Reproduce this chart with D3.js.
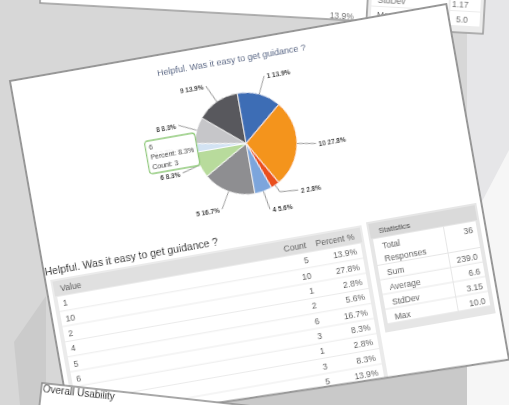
<!DOCTYPE html>
<html><head><meta charset="utf-8">
<script src="https://cdn.jsdelivr.net/npm/d3@7"></script>
<style>body{margin:0;background:#d7d7d7;overflow:hidden}svg{display:block}</style>
</head><body>
<svg id="c" width="509" height="405"></svg>
<script>
// ---------- data ----------
const chartTitle = "Helpful. Was it easy to get guidance ?";
const values = ["1","10","2","4","5","6","7","8","9"];
const counts = [5,10,1,2,6,3,1,3,5];
const sliceColors = ["#3e6db5","#f4941f","#ea4f1c","#7ba5dc","#8e8e91","#b8db9c","#d3e3f3","#c6c6c9","#59595d"];
const tableHeaders = ["Value","Count","Percent %"];
const statLabels = [["Total","Responses"],["Sum"],["Average"],["StdDev"],["Max"]];
const statValues = ["36","239.0","6.6","3.15","10.0"];
const hoveredValue = "6";
const bgStatLabels = ["StdDev","Max"];
const bgStatValues = ["1.17","5.0"];
const bottomTitle = "Overall Usability";

const FONT = "'Liberation Sans', Arial, sans-serif";
const total = d3.sum(counts);
const pct = c => d3.format(".1f")(c/total*100) + "%";
const data = values.map((v,i)=>({value:v,count:counts[i],color:sliceColors[i]}));

const svg = d3.select("#c");
const defs = svg.append("defs");
defs.append("filter").attr("id","soft").attr("x","-5%").attr("y","-5%").attr("width","110%").attr("height","110%")
  .append("feGaussianBlur").attr("stdDeviation",0.35);

// ---------- background ----------
svg.append("rect").attr("width",509).attr("height",405).attr("fill","#d7d7d7");
svg.append("rect").attr("x",467).attr("width",42).attr("height",405).attr("fill","#e6e6e8");
svg.append("polygon").attr("points","509,150 467,230 467,405 509,405").attr("fill","#f6f6f6");
svg.append("polygon").attr("points","200,372 467,335 467,405 200,405").attr("fill","#c9c9c9");
svg.append("polygon").attr("points","46,296 14,342 20,405 46,405").attr("fill","#cbcbcb");

// ---------- top (previous) card ----------
const topCard = svg.append("g").attr("transform","translate(40,3) rotate(3.2)").attr("filter","url(#soft)");
topCard.append("rect").attr("x",0).attr("y",-60).attr("width",327).attr("height",60)
  .attr("fill","#fff").attr("stroke","#9a9a9a").attr("stroke-width",1.5);
topCard.append("text").attr("x",314).attr("y",-1.5).attr("text-anchor","end")
  .attr("font-family",FONT).attr("font-size",8.5).attr("fill","#666").text("13.9%");
topCard.append("rect").attr("x",327).attr("y",-60).attr("width",117).attr("height",66)
  .attr("fill","#ececec").attr("stroke","#9a9a9a").attr("stroke-width",1.5);
bgStatLabels.forEach((l,i)=>{
  const y0 = -30 + i*15;
  topCard.append("rect").attr("x",331).attr("y",y0).attr("width",77).attr("height",14).attr("fill","#fff");
  topCard.append("rect").attr("x",410).attr("y",y0).attr("width",30).attr("height",14).attr("fill","#fff");
  topCard.append("text").attr("x",337).attr("y",y0+11).attr("font-family",FONT).attr("font-size",8.5).attr("fill","#666").text(l);
  topCard.append("text").attr("x",428).attr("y",y0+11).attr("text-anchor","end").attr("font-family",FONT).attr("font-size",8.5).attr("fill","#666").text(bgStatValues[i]);
});

// ---------- main card ----------
const card = svg.append("g").attr("transform","translate(10,81) rotate(-10)").attr("filter","url(#soft)");
const cardPts = "0,0 443,0 443,361 0,349";
defs.append("clipPath").attr("id","cardClip").append("polygon").attr("points",cardPts);
card.append("polygon").attr("points",cardPts).attr("fill","#fff");
const inner = card.append("g").attr("clip-path","url(#cardClip)");

// pie
const cx = 221.6, cy = 102.5, r = 51;
inner.append("text").attr("x",cx).attr("y",21).attr("text-anchor","middle")
  .attr("font-family",FONT).attr("font-size",9).attr("fill","#4e5d7f").text(chartTitle);

const pieG = inner.append("g").attr("transform",`translate(${cx},${cy})`);
const arcs = d3.pie().sort(null).value(d=>d.count)(data);
const arcGen = d3.arc().innerRadius(0).outerRadius(r);
pieG.selectAll("path.slice").data(arcs).join("path").attr("class","slice")
  .attr("d",arcGen).attr("fill",d=>d.data.color).attr("stroke","#fff").attr("stroke-width",0.8);

// label layout
const R = 70, gap = 14;
arcs.forEach(a=>{
  a.mid = (a.startAngle+a.endAngle)/2;
  a.side = Math.sin(a.mid) >= 0 ? 1 : -1;
  a.lx = R*Math.sin(a.mid); a.ly = -R*Math.cos(a.mid); a.moved = false;
});
[1,-1].forEach(s=>{
  const L = arcs.filter(a=>a.side===s).sort((a,b)=>a.ly-b.ly);
  for (let i=L.length-2;i>=0;i--){
    if (L[i+1].ly - L[i].ly < gap){ L[i].ly = L[i+1].ly - gap; L[i].moved = true; }
  }
  L.forEach(a=>{ if (a.moved) a.lx = s*Math.sqrt(Math.max(0,R*R-a.ly*a.ly)); });
});
arcs.forEach(a=>{
  const e1 = [ (r)*Math.sin(a.mid), -(r)*Math.cos(a.mid) ];
  const e2 = [ (r+8)*Math.sin(a.mid), -(r+8)*Math.cos(a.mid) ];
  pieG.append("polyline").attr("points",[e1,e2,[a.lx,a.ly]].map(p=>p.join(",")).join(" "))
    .attr("fill","none").attr("stroke","#7a7a7a").attr("stroke-width",0.8);
  pieG.append("text").attr("x",a.lx + a.side*2.5).attr("y",a.ly).attr("dy","0.5em")
    .attr("text-anchor",a.side>0?"start":"end")
    .attr("font-family",FONT).attr("font-size",6.5).attr("font-weight","bold").attr("fill","#333")
    .text(`${a.data.value} ${pct(a.data.count)}`);
});

// tooltip
const hv = data.find(d=>d.value===hoveredValue);
const tip = pieG.append("g").attr("transform","translate(-100,-19.5)");
tip.append("rect").attr("width",51).attr("height",33).attr("rx",3)
  .attr("fill","#fff").attr("fill-opacity",0.93).attr("stroke","#8fca78").attr("stroke-width",1.3);
[hv.value, `Percent: ${pct(hv.count)}`, `Count: ${hv.count}`].forEach((t,i)=>{
  tip.append("text").attr("x",3.6).attr("y",9.2+i*10).attr("font-family",FONT).attr("font-size",7)
    .attr("fill","#333").text(t);
});

// table
inner.append("text").attr("x",1).attr("y",198).attr("font-family",FONT).attr("font-size",10.5)
  .attr("fill","#222").text(chartTitle);
inner.append("rect").attr("x",5).attr("y",203).attr("width",316).attr("height",170).attr("fill","#ebebeb");
inner.append("rect").attr("x",7).attr("y",205).attr("width",312).attr("height",15).attr("fill","#e0e0e0");
const colX = [13.5, 263, 312];
tableHeaders.forEach((h,i)=>{
  inner.append("text").attr("x",colX[i]).attr("y",216).attr("text-anchor",i?"end":"start")
    .attr("font-family",FONT).attr("font-size",8.5).attr("fill","#555").text(h);
});
const rowH = 15.3, row0 = 221;
data.forEach((d,i)=>{
  const y0 = row0 + i*rowH;
  inner.append("rect").attr("x",9).attr("y",y0).attr("width",308).attr("height",rowH-1).attr("fill","#fff");
  [d.value, String(d.count), pct(d.count)].forEach((t,j)=>{
    inner.append("text").attr("x",colX[j]).attr("y",y0+10.5).attr("text-anchor",j?"end":"start")
      .attr("font-family",FONT).attr("font-size",8.5).attr("fill","#555").text(t);
  });
});

// statistics
inner.append("rect").attr("x",326).attr("y",201).attr("width",112).attr("height",112).attr("fill","#e6e6e6");
inner.append("rect").attr("x",328).attr("y",203).attr("width",108).attr("height",15).attr("fill","#dadada");
inner.append("text").attr("x",337).attr("y",214).attr("font-family",FONT).attr("font-size",8)
  .attr("fill","#444").text("Statistics");
let sy = 219;
statLabels.forEach((lines,i)=>{
  const h = lines.length>1 ? 27 : 14.8;
  inner.append("rect").attr("x",330).attr("y",sy).attr("width",71).attr("height",h-1).attr("fill","#fff");
  inner.append("rect").attr("x",402).attr("y",sy).attr("width",32).attr("height",h-1).attr("fill","#fff");
  lines.forEach((l,k)=>{
    inner.append("text").attr("x",338).attr("y",sy+11.5+k*12.5).attr("font-family",FONT).attr("font-size",8.5)
      .attr("fill","#555").text(l);
  });
  inner.append("text").attr("x",430).attr("y",sy+11.5).attr("text-anchor","end").attr("font-family",FONT)
    .attr("font-size",8.5).attr("fill","#555").text(statValues[i]);
  sy += h;
});
card.append("polygon").attr("points",cardPts).attr("fill","none").attr("stroke","#979797").attr("stroke-width",2);

// ---------- bottom card ----------
const bot = svg.append("g").attr("transform","translate(42,383) rotate(6.3)").attr("filter","url(#soft)");
bot.append("rect").attr("width",600).attr("height",100).attr("fill","#fff").attr("stroke","#8a8a8a").attr("stroke-width",1.5);
bot.append("text").attr("x",1.5).attr("y",9.3).attr("font-family",FONT).attr("font-size",10)
  .attr("fill","#222").text(bottomTitle);
</script>
</body></html>
